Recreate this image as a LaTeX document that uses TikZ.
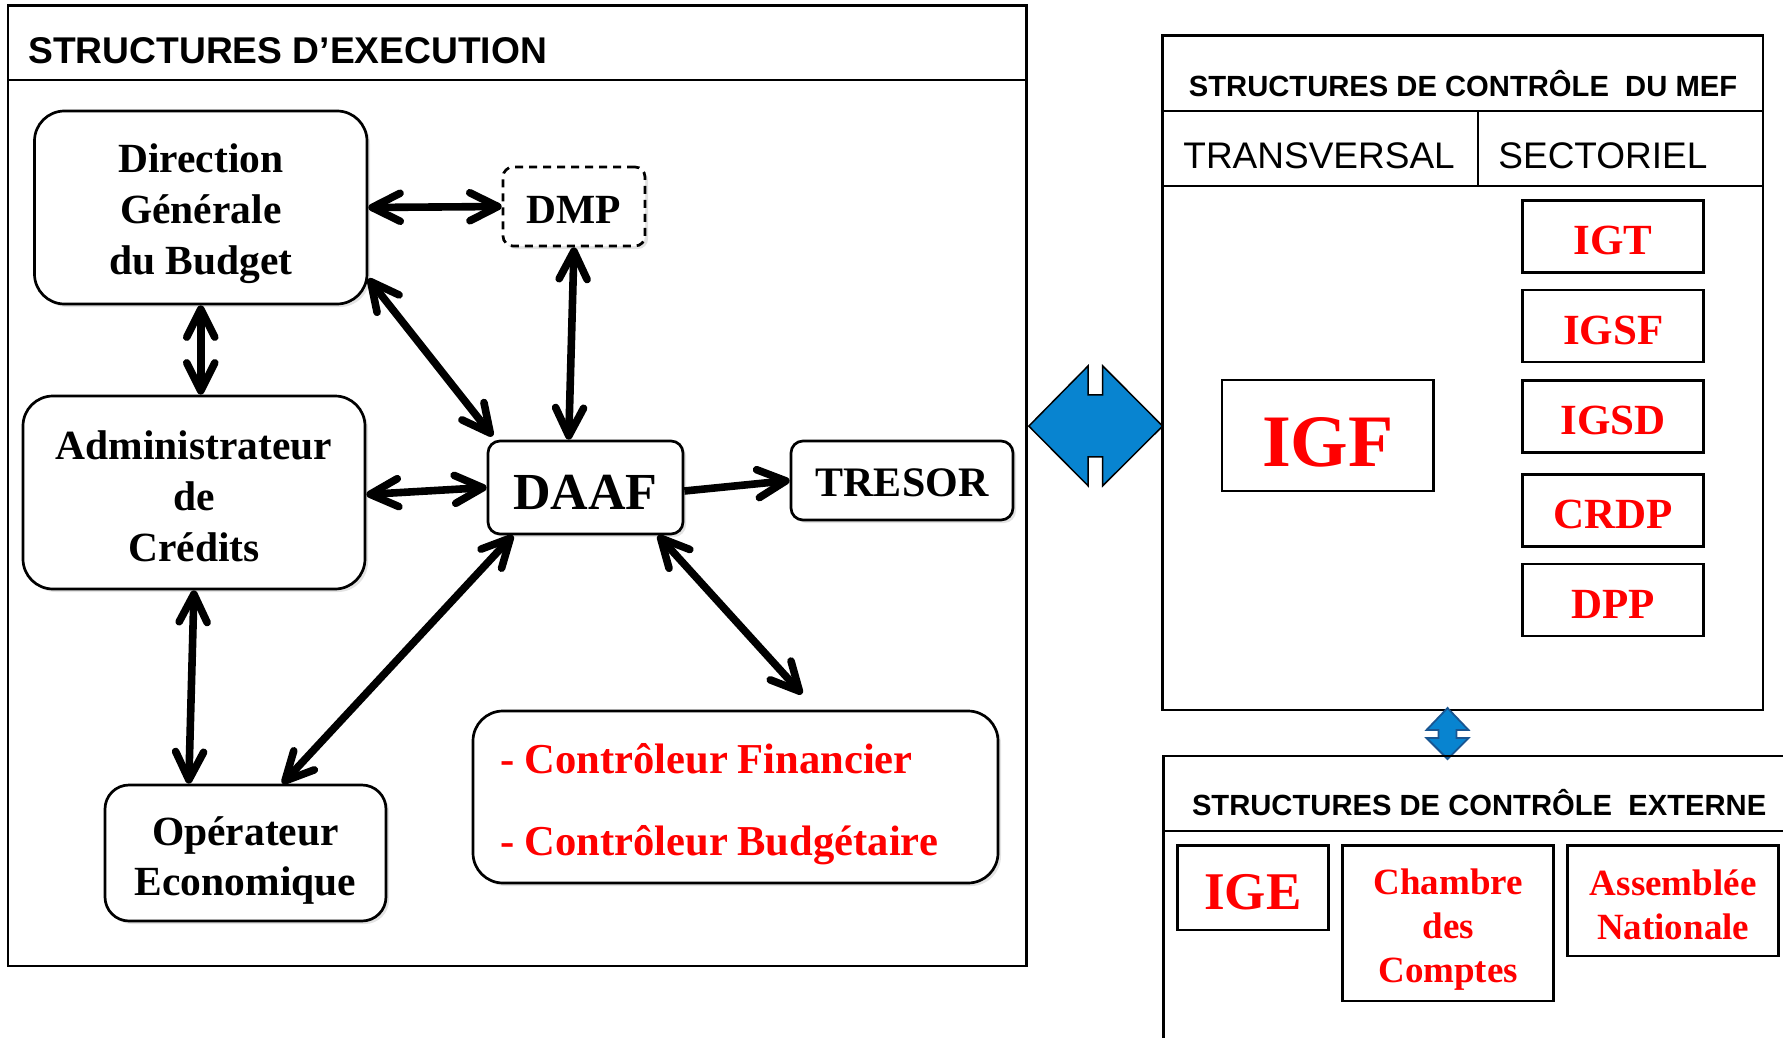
\documentclass[tikz,border=0pt]{standalone}
\usepackage{fontspec}
\setmainfont{Liberation Serif}
\newfontfamily\arialf{Liberation Sans}
\usetikzlibrary{arrows.meta,calc,shadows}
\definecolor{myred}{RGB}{255,0,0}
\definecolor{myblue}{RGB}{8,132,208}
\definecolor{myblueedge}{RGB}{25,85,145}
\newcommand{\mystrut}[1]{\rule{0pt}{#1}}
\newcommand{\tightspace}{\spaceskip=4.8pt plus 1pt minus 0.5pt\relax}
\begin{document}
\begin{tikzpicture}[x=0.5pt,y=-0.5pt,
  frame/.style={draw=black,line width=1.25pt},
  frametwo/.style={draw=black,line width=1.4pt},
  lbox/.style={draw=black,line width=1.35pt,rounded corners=#1,fill=white,align=center,inner sep=0pt,
    font=\bfseries\fontsize{20.75}{25.5}\selectfont,
    drop shadow={shadow xshift=1.5pt,shadow yshift=-1.5pt,opacity=0.22}},
  lbox/.default=15pt,
  rbox/.style={draw=black,line width=1.4pt,fill=white,align=center,inner sep=0pt,text=myred},
  titlefont/.style={font=\arialf\bfseries\fontsize{14.6}{16}\selectfont,inner sep=0pt},
  colfont/.style={font=\arialf\fontsize{18.5}{20}\selectfont,inner sep=0pt},
  biarrow/.style={line width=3.8pt,{Straight Barb[length=14pt,width=14pt,round]}-{Straight Barb[length=14pt,width=14pt,round]}},
  monoarrow/.style={line width=3.8pt,-{Straight Barb[length=14pt,width=14pt,round]}}
]
\useasboundingbox (0,0) rectangle (1783,1038);

% ---------- left frame ----------
\draw[frame] (8,5.4) rectangle (1026.5,966);
\draw[frame] (8,80) -- (1026.5,80);
\node[anchor=base west,font=\arialf\bfseries\fontsize{18.6}{20}\selectfont,inner sep=0pt] (texec) at (28,63.6) {STRUCTURES D’EXECUTION};

\node[lbox=15pt,minimum width=166.25pt,minimum height=96.5pt] (dgb) at (200.75,207.5) {\mystrut{21pt}Direction\\Générale\\du Budget};
\node[lbox=5pt,dash pattern=on 4pt off 3pt,minimum width=71pt,minimum height=39.5pt] (dmp) at (574,206.5) {\mystrut{17.1pt}DMP};
\node[lbox=6pt,minimum width=97.5pt,minimum height=46.5pt,font=\bfseries\fontsize{26}{30}\selectfont] (daaf) at (585.5,487.5) {\mystrut{21.7pt}DAAF};
\node[lbox=6pt,minimum width=111pt,minimum height=39.5pt,font=\bfseries\fontsize{21}{25}\selectfont] (tresor) at (902,480.5) {\mystrut{16.2pt}TRESOR};
\node[lbox=15pt,minimum width=171pt,minimum height=96.5pt,font=\bfseries\fontsize{20.75}{25.5}\selectfont] (admin) at (194,492.5) {\mystrut{17.9pt}Administrateur\\de\\Crédits};
\node[lbox=12pt,minimum width=140.5pt,minimum height=68pt,font=\bfseries\fontsize{20.75}{25}\selectfont] (op) at (245.5,853) {\mystrut{22pt}Opérateur\\Economique};
\node[lbox=15pt,minimum width=262.5pt,minimum height=86pt,text width=234.8pt,inner xsep=13.85pt,align=left,text=myred,font=\bfseries\fontsize{21.3}{41}\selectfont] (ctrl) at (735.5,797) {\tightspace\mystrut{22pt}- Contrôleur Financier\\\tightspace - Contrôleur Budgétaire};

\draw[biarrow] (dgb.east) -- (dmp.west);
\draw[biarrow] (dmp.south) -- ($(daaf.north west)!0.415!(daaf.north east)$);
\draw[biarrow] (dgb.-23) -- ($(daaf.north west)+(6,-3.5)$);
\draw[biarrow] (dgb.south) -- (dgb.south |- admin.north);
\draw[biarrow] ($(admin.east)+(0,2)$) -- (daaf.west);
\draw[monoarrow] ($(daaf.east)+(0,3.5)$) -- (tresor.west);
\draw[biarrow] ($(daaf.south west)!0.133!(daaf.south east)$) -- ($(op.north west)!0.63!(op.north east)$);
\coordinate (cfend) at (802,694);
\draw[biarrow] ($(daaf.south west)!0.867!(daaf.south east)$) -- (cfend);
\draw[biarrow] (admin.south) -- ($(op.north west)!0.3!(op.north east)$);

% ---------- big blue double arrow ----------
\filldraw[fill=myblue,draw=black,line width=0.75pt] (1028.8,426.1) -- (1088.1,365.9) -- (1088.1,394.9) -- (1102.7,394.9) -- (1102.7,365.9) -- (1162.6,426.1) -- (1102.7,485.8) -- (1102.7,456.8) -- (1088.1,456.8) -- (1088.1,485.8) -- cycle;

% ---------- MEF frame ----------
\draw[frametwo] (1162.6,35.4) rectangle (1763,710);
\draw[frametwo] (1162.6,111) -- (1763,111);
\draw[frametwo] (1162.6,186) -- (1763,186);
\draw[frametwo] (1478,111) -- (1478,186);
\node[titlefont,anchor=base] (tmef) at (1463,96.4) {STRUCTURES DE CONTRÔLE\ \ DU MEF};
\node[colfont,anchor=base west] (ttrans) at (1183,169) {TRANSVERSAL};
\node[colfont,anchor=base west] (tsect) at (1498,169) {SECTORIEL};

\node[rbox,minimum width=105.8pt,minimum height=55.5pt,font=\bfseries\fontsize{37}{40}\selectfont] (igf) at (1327.8,435.5) {\mystrut{31.3pt}IGF};
\tikzset{sbox/.style={rbox,minimum width=90.5pt,minimum height=36pt,font=\bfseries\fontsize{21.5}{24}\selectfont}}
\node[sbox] (igt) at (1613.2,236.45) {\mystrut{18.4pt}IGT};
\node[sbox] (igsf) at (1613.2,326) {\mystrut{18.4pt}IGSF};
\node[sbox] (igsd) at (1613.2,416.3) {\mystrut{18.4pt}IGSD};
\node[sbox] (crdp) at (1613.2,510.35) {\mystrut{18.4pt}CRDP};
\node[sbox] (dpp) at (1613.2,600) {\mystrut{18.4pt}DPP};

% ---------- small blue double arrow ----------
\filldraw[fill=myblue,draw=myblueedge,line width=0.9pt] (1447.5,708) -- (1468.5,730) -- (1456.5,730) -- (1456.5,738) -- (1468.5,738) -- (1447.5,759) -- (1426.5,738) -- (1438.5,738) -- (1438.5,730) -- (1426.5,730) -- cycle;

% ---------- EXTERNE frame ----------
\draw[frametwo] (1790,756) -- (1163.3,756) -- (1163.3,1045);
\draw[frametwo] (1163.3,831) -- (1790,831);
\node[titlefont,anchor=base west] (text) at (1191.6,815) {STRUCTURES DE CONTRÔLE\ \ EXTERNE};
\node[rbox,minimum width=75.45pt,minimum height=42.15pt,font=\bfseries\fontsize{26.5}{30}\selectfont] (ige) at (1252.95,887.85) {\mystrut{22pt}IGE};
\node[rbox,minimum width=105.55pt,minimum height=77.65pt,font=\bfseries\fontsize{18.5}{22.2}\selectfont] (cdc) at (1448.15,923.35) {\mystrut{19pt}Chambre\\des\\Comptes};
\node[rbox,minimum width=105.4pt,minimum height=55.15pt,font=\bfseries\fontsize{18.5}{22}\selectfont] (an) at (1673.2,900.85) {\mystrut{16.4pt}Assemblée\\Nationale};
\end{tikzpicture}
\end{document}
